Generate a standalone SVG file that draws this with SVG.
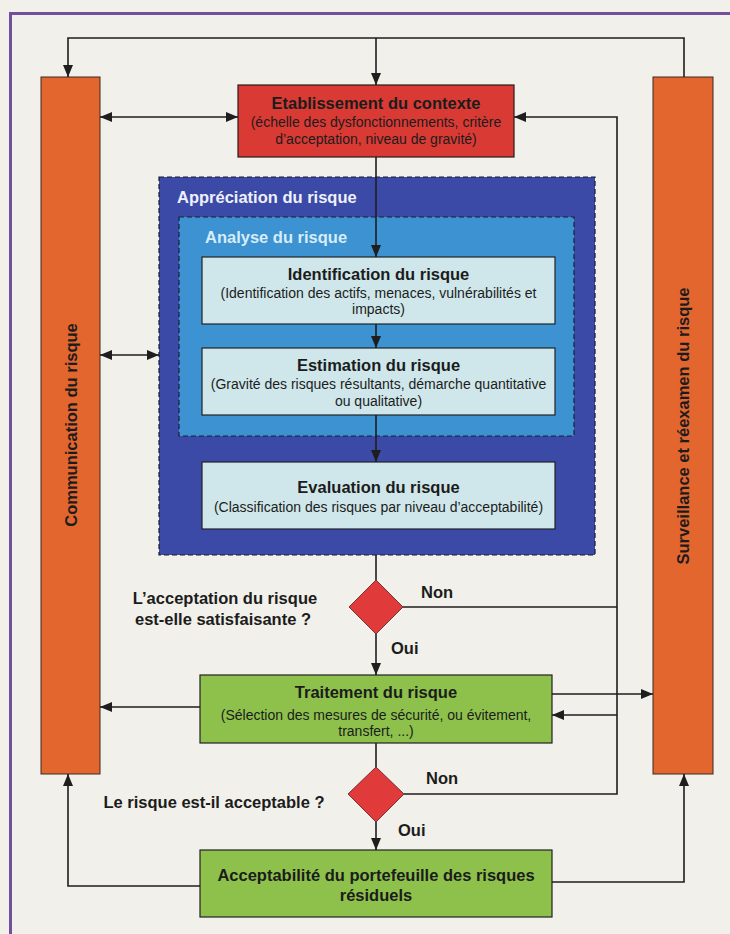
<svg xmlns="http://www.w3.org/2000/svg" width="730" height="934" viewBox="0 0 730 934">
  <defs>
    <marker id="arrow" viewBox="0 0 12 10" refX="12" refY="5" markerWidth="12" markerHeight="10" markerUnits="userSpaceOnUse" orient="auto-start-reverse">
      <path d="M0,0 L12,5 L0,10 z" fill="#1e1e1e"/>
    </marker>
    <style>
      text { font-family: "Liberation Sans", Arial, sans-serif; fill: #1c1c1c; }
      .title { font-size: 16.5px; font-weight: bold; text-anchor: middle; }
      .sub { font-size: 14px; text-anchor: middle; }
      .lbl { font-size: 16.5px; font-weight: bold; }
      .q { font-size: 16.5px; font-weight: bold; text-anchor: middle; }
      .col { fill: #e3662f; stroke: #3a2a20; stroke-width: 1; }
      .red { fill: #da3a34; stroke: #2a1a1a; stroke-width: 1.2; }
      .cyan { fill: #cfe7ea; stroke: #222; stroke-width: 1.2; }
      .green { fill: #8dc14b; stroke: #222; stroke-width: 1.2; }
      .diamond { fill: #e03a3a; stroke: #5a1a1a; stroke-width: 0.8; }
      .conn path { fill: none; stroke: #1e1e1e; stroke-width: 1.6; }
    </style>
  </defs>

  <!-- page background and frame -->
  <rect x="0" y="0" width="730" height="934" fill="#f1f0ea"/>
  <path d="M10.5,934 V13.5 H730" fill="none" stroke="#74509c" stroke-width="3"/>

  <!-- side columns -->
  <g id="communication">
    <rect class="col" x="41" y="77" width="59" height="697"/>
    <text class="lbl" text-anchor="middle" transform="translate(76.5,425) rotate(-90)">Communication du risque</text>
  </g>
  <g id="surveillance">
    <rect class="col" x="653" y="77" width="60" height="697"/>
    <text class="lbl" text-anchor="middle" transform="translate(688.5,426) rotate(-90)">Surveillance et réexamen du risque</text>
  </g>

  <!-- context -->
  <g id="contexte">
    <rect class="red" x="238" y="85" width="276" height="72"/>
    <text class="title" x="376" y="109">Etablissement du contexte</text>
    <text class="sub" x="376" y="127">(échelle des dysfonctionnements, critère</text>
    <text class="sub" x="376" y="144">d’acceptation, niveau de gravité)</text>
  </g>

  <!-- risk assessment container -->
  <g id="appreciation">
    <rect x="159" y="177" width="436" height="378" fill="#3b4aa6" stroke="#1a1a2a" stroke-width="1.2" stroke-dasharray="5 3"/>
    <text x="177" y="203" font-size="16.5" font-weight="bold" style="fill:#eef0fa">Appréciation du risque</text>
  </g>
  <g id="analyse">
    <rect x="179" y="217" width="395" height="219" fill="#3d92d1" stroke="#1a2230" stroke-width="1.2" stroke-dasharray="5 3"/>
    <text x="205" y="243" font-size="16.5" font-weight="bold" style="fill:#d6edf8">Analyse du risque</text>
  </g>

  <g id="identification">
    <rect class="cyan" x="202" y="257" width="353" height="67"/>
    <text class="title" x="378.5" y="280">Identification du risque</text>
    <text class="sub" x="378.5" y="298">(Identification des actifs, menaces, vulnérabilités et</text>
    <text class="sub" x="378.5" y="314">impacts)</text>
  </g>
  <g id="estimation">
    <rect class="cyan" x="202" y="348" width="353" height="67"/>
    <text class="title" x="378.5" y="371">Estimation du risque</text>
    <text class="sub" x="378.5" y="389">(Gravité des risques résultants, démarche quantitative</text>
    <text class="sub" x="378.5" y="406">ou qualitative)</text>
  </g>
  <g id="evaluation">
    <rect class="cyan" x="202" y="462" width="353" height="67"/>
    <text class="title" x="378.5" y="493">Evaluation du risque</text>
    <text class="sub" x="378.5" y="512">(Classification des risques par niveau d’acceptabilité)</text>
  </g>

  <!-- decision 1 -->
  <g id="decision1">
    <polygon class="diamond" points="376,580 403,607 376,634 349,607"/>
    <text class="q" x="225" y="604">L’acceptation du risque</text>
    <text class="q" x="223" y="625">est-elle satisfaisante ?</text>
  </g>

  <g id="traitement">
    <rect class="green" x="200" y="675" width="352" height="68"/>
    <text class="title" x="376" y="698">Traitement du risque</text>
    <text class="sub" x="376" y="720">(Sélection des mesures de sécurité, ou évitement,</text>
    <text class="sub" x="376" y="736">transfert, ...)</text>
  </g>

  <!-- decision 2 -->
  <g id="decision2">
    <polygon class="diamond" points="376,767 404,794 376,822 348,794"/>
    <text class="q" x="214" y="808">Le risque est-il acceptable ?</text>
  </g>

  <g id="acceptabilite">
    <rect class="green" x="200" y="850" width="352" height="67"/>
    <text class="title" x="376" y="881">Acceptabilité du portefeuille des risques</text>
    <text class="title" x="376" y="901">résiduels</text>
  </g>

  <!-- connectors -->
  <g id="connectors" class="conn">
    <path d="M684,77 V38 H68 V77" marker-end="url(#arrow)"/>
    <path d="M376,38 V85" marker-end="url(#arrow)"/>
    <path d="M100,117 H238" marker-start="url(#arrow)" marker-end="url(#arrow)"/>
    <path d="M100,355 H159" marker-start="url(#arrow)" marker-end="url(#arrow)"/>
    <path d="M376,157 V257" marker-end="url(#arrow)"/>
    <path d="M376,324 V348" marker-end="url(#arrow)"/>
    <path d="M376,415 V462" marker-end="url(#arrow)"/>
    <path d="M376,555 V580"/>
    <path d="M376,634 V675" marker-end="url(#arrow)"/>
    <path d="M403,607 H617"/>
    <path d="M404,794 H617 V117 H514" marker-end="url(#arrow)"/>
    <path d="M617,715 H552" marker-end="url(#arrow)"/>
    <path d="M200,707 H100" marker-end="url(#arrow)"/>
    <path d="M552,694 H653" marker-end="url(#arrow)"/>
    <path d="M376,743 V767"/>
    <path d="M376,822 V850" marker-end="url(#arrow)"/>
    <path d="M200,886 H68 V774" marker-end="url(#arrow)"/>
    <path d="M552,882 H684 V774" marker-end="url(#arrow)"/>
    <text class="lbl" x="421" y="598">Non</text>
    <text class="lbl" x="391" y="654">Oui</text>
    <text class="lbl" x="426" y="784">Non</text>
    <text class="lbl" x="398" y="836">Oui</text>
  </g>
</svg>
